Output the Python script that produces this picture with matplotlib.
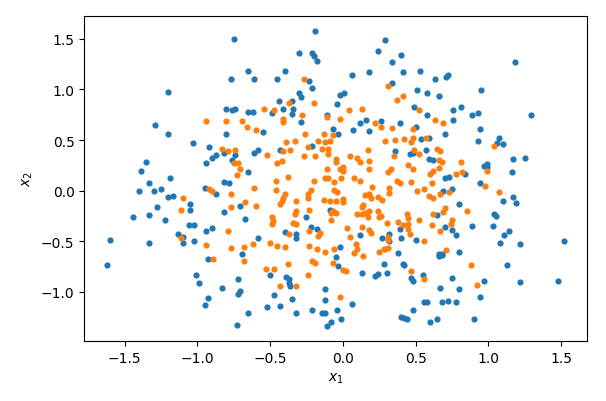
import matplotlib
matplotlib.use("Agg")
import matplotlib.pyplot as plt

# class 0 (blue) points: (x1, x2)
blue_pts = [
    (-0.75, 1.50), (-0.77, 1.10), (-1.20, 0.97), (-0.80, 0.81), (-0.76, 0.80), (-0.74, 0.81),
    (-1.29, 0.65), (-1.20, 0.56), (-0.80, 0.56), (-1.03, 0.47), (-0.92, 0.43), (-0.87, 0.35),
    (-0.82, 0.37), (-0.74, 0.35), (-0.90, 0.32), (-0.76, 0.30), (-0.94, 0.27), (-1.35, 0.28),
    (-1.39, 0.19),
    (-1.19, 0.12), (-1.33, 0.08), (-0.82, 0.09), (-0.78, 0.08), (-1.40, 0.00), (-1.30, 0.00),
    (-1.25, 0.02), (-0.95, 0.03), (-0.87, -0.03), (-1.20, -0.06), (-1.17, -0.05), (-1.05, -0.13),
    (-1.28, -0.16), (-1.05, -0.19), (-0.71, -0.15), (-0.82, -0.21), (-1.33, -0.24), (-1.44, -0.26),
    (-1.22, -0.29), (-0.67, -0.28), (-1.06, -0.34), (-1.02, -0.34), (-0.90, -0.37), (-0.94, -0.40),
    (-1.13, -0.43), (-1.10, -0.46), (-1.10, -0.52), (-1.02, -0.50), (-1.60, -0.49), (-1.33, -0.52),
    (-0.69, -0.63), (-0.93, -0.68), (-1.62, -0.73), (-1.01, -0.83), (-0.99, -0.91), (-0.72, -0.87),
    (-0.83, -0.96), (-0.71, -0.99), (-0.72, -1.02), (-0.93, -1.06), (-0.95, -1.13), (-0.73, -1.33),
    (-0.19, 1.58), (0.29, 1.49), (0.24, 1.38), (-0.30, 1.36), (-0.21, 1.36), (-0.20, 1.33),
    (-0.18, 1.28), (0.40, 1.34), (0.34, 1.27), (-0.65, 1.18), (-0.40, 1.18), (0.41, 1.17),
    (-0.61, 1.10), (-0.45, 1.10), (0.06, 1.14), (0.18, 1.17), (-0.23, 1.08), (-0.21, 1.01),
    (0.34, 1.06), (-0.30, 0.96), (-0.29, 0.92), (-0.02, 0.94), (0.01, 0.96), (-0.35, 0.89),
    (-0.44, 0.89), (-0.04, 0.86), (-0.49, 0.77), (-0.41, 0.81), (-0.34, 0.81), (-0.35, 0.76),
    (-0.65, 0.78), (-0.62, 0.78), (-0.11, 0.75), (-0.29, 0.68), (-0.55, 0.58), (-0.07, 0.61),
    (-0.03, 0.56), (0.07, 0.60), (0.12, 0.67), (0.16, 0.70), (0.26, 0.69), (0.18, 0.59),
    (0.39, 0.67), (-0.21, 0.44), (-0.43, 0.40), (-0.61, 0.37), (-0.58, 0.40), (0.36, 0.39),
    (0.46, 0.36), (0.48, 0.37), (-0.65, 0.18),
    (-0.25, -0.26), (-0.09, -0.19), (-0.40, -0.41), (-0.32, -0.43), (-0.32, -0.47), (-0.22, -0.36),
    (-0.18, -0.38), (0.12, -0.44), (0.27, -0.47), (0.32, -0.43), (0.32, -0.50), (0.39, -0.38),
    (0.40, -0.47), (-0.58, -0.47), (-0.02, -0.56), (0.38, -0.62), (-0.05, -0.66), (-0.03, -0.74),
    (-0.50, -0.83), (0.13, -0.81), (0.22, -0.84), (0.24, -0.82), (0.28, -0.72), (0.30, -0.81),
    (0.41, -0.72), (0.42, -0.73), (0.47, -0.86), (0.48, -0.89), (-0.39, -0.85), (-0.37, -0.87),
    (-0.37, -0.91), (-0.36, -0.94), (-0.12, -0.97), (-0.47, -1.03), (-0.35, -1.07), (-0.12, -1.08),
    (0.06, -1.12), (-0.52, -1.15), (-0.43, -1.14), (-0.65, -1.21), (-0.32, -1.21), (-0.21, -1.18),
    (-0.14, -1.21), (-0.12, -1.21), (-0.04, -1.18), (-0.01, -1.27), (-0.08, -1.30), (-0.11, -1.34),
    (0.40, -1.25), (0.42, -1.26), (0.44, -1.27), (0.48, -1.18),
    (1.18, 1.27), (0.53, 1.18), (0.63, 1.10), (0.71, 1.12), (0.72, 1.14), (0.51, 0.99),
    (0.58, 0.96), (0.66, 0.93), (0.95, 0.99), (0.49, 0.83), (0.58, 0.75), (0.76, 0.80),
    (0.81, 0.83), (0.89, 0.75), (0.93, 0.77), (1.29, 0.75), (0.76, 0.70), (0.50, 0.63),
    (0.94, 0.61), (0.70, 0.56), (0.54, 0.51), (0.59, 0.52), (1.07, 0.52), (0.93, 0.49),
    (1.10, 0.46), (1.06, 0.47), (0.57, 0.40), (0.59, 0.31), (0.62, 0.30), (1.17, 0.31),
    (1.25, 0.32), (0.99, 0.26), (0.97, 0.24), (0.99, 0.23), (1.16, 0.18), (0.84, 0.16),
    (0.70, 0.12), (0.73, 0.13), (0.94, 0.08), (0.69, 0.00), (0.75, 0.02), (1.10, -0.10),
    (1.17, -0.06), (1.19, -0.12), (0.80, -0.13), (0.65, -0.24), (1.04, -0.23), (1.05, -0.25),
    (0.70, -0.36), (0.75, -0.39), (0.78, -0.44), (0.89, -0.35), (1.03, -0.35), (1.14, -0.40),
    (1.11, -0.44), (0.50, -0.49), (1.08, -0.52), (1.22, -0.53), (1.52, -0.50), (0.66, -0.63),
    (0.68, -0.64), (0.66, -0.65), (0.68, -0.63), (0.80, -0.61), (1.13, -0.73), (0.55, -0.83),
    (0.75, -0.86), (0.97, -0.89), (1.22, -0.90), (1.48, -0.89), (0.67, -0.96), (0.80, -0.97),
    (0.94, -1.05), (0.56, -1.10), (0.58, -1.10), (0.68, -1.10), (0.72, -1.09), (0.78, -1.10),
    (0.60, -1.30), (0.65, -1.27), (0.90, -1.27),
]

# class 1 (orange) points: (x1, x2)
orange_pts = [
    (-0.94, 0.69), (-0.80, 0.69), (-0.69, 0.69), (-0.83, 0.41), (-0.79, 0.39), (-0.74, 0.40),
    (-0.75, 0.27), (-0.72, 0.27), (-0.71, 0.21), (-0.73, 0.15),
    (-0.92, 0.02), (-0.90, 0.00), (-0.77, -0.03), (-1.10, -0.07), (-1.11, -0.19), (-0.77, -0.16),
    (-0.67, -0.11), (-0.79, -0.40), (-1.11, -0.47), (-0.94, -0.54), (-0.77, -0.57), (-0.68, -0.56),
    (-0.68, -0.69), (-0.89, -0.68),
    (-0.27, 1.10), (0.31, 1.03), (0.41, 0.93), (0.37, 0.90), (-0.37, 0.87), (-0.20, 0.87),
    (-0.54, 0.81), (-0.47, 0.80), (-0.28, 0.75), (-0.11, 0.73), (0.04, 0.80), (0.13, 0.81),
    (-0.41, 0.71), (-0.41, 0.68), (-0.02, 0.71), (-0.66, 0.63), (-0.60, 0.60), (0.22, 0.67),
    (0.26, 0.63), (0.34, 0.62), (0.48, 0.61), (-0.26, 0.56), (-0.13, 0.56), (-0.07, 0.55),
    (-0.39, 0.48), (-0.33, 0.49), (-0.17, 0.49), (-0.12, 0.48), (-0.09, 0.49), (-0.24, 0.43),
    (-0.14, 0.41), (-0.10, 0.41), (-0.10, 0.36), (-0.36, 0.40), (-0.41, 0.39), (-0.52, 0.35),
    (0.17, 0.40), (0.29, 0.49), (0.36, 0.50), (0.42, 0.51), (0.48, 0.52), (0.47, 0.48),
    (0.35, 0.34), (-0.27, 0.34), (-0.19, 0.34), (-0.05, 0.31), (0.05, 0.34), (0.10, 0.32),
    (0.12, 0.28), (0.18, 0.29), (-0.45, 0.27), (-0.42, 0.29), (-0.05, 0.28), (0.00, 0.23),
    (-0.02, 0.21), (0.00, 0.19), (-0.11, 0.21), (0.18, 0.21), (0.33, 0.21), (0.31, 0.18),
    (0.45, 0.25), (0.48, 0.21),
    (-0.46, 0.10), (-0.38, 0.13), (-0.61, 0.03), (-0.46, 0.01), (-0.20, 0.10), (-0.12, 0.12),
    (-0.10, 0.12), (-0.06, 0.09), (-0.01, 0.12), (0.08, 0.12), (0.12, 0.10), (0.37, 0.10),
    (0.39, 0.08), (0.47, 0.09), (-0.22, 0.01), (-0.24, -0.03), (-0.24, -0.07), (-0.40, -0.03),
    (-0.41, -0.07), (-0.42, -0.10), (-0.43, -0.13), (-0.32, -0.10), (-0.13, -0.09), (-0.09, -0.10),
    (-0.05, -0.10), (-0.06, 0.01), (-0.04, -0.01), (0.00, -0.08), (0.00, -0.11), (0.20, 0.04),
    (0.32, 0.03), (0.32, -0.02), (0.15, -0.04), (0.18, -0.03), (0.19, -0.07), (0.24, -0.06),
    (0.27, -0.09), (0.14, -0.14), (0.13, -0.16), (-0.60, -0.15), (-0.49, -0.26), (-0.48, -0.30),
    (-0.49, -0.33), (-0.32, -0.20), (-0.33, -0.23), (-0.34, -0.32), (-0.32, -0.33), (-0.23, -0.19),
    (-0.08, -0.22), (-0.07, -0.20), (-0.08, -0.29), (-0.05, -0.22), (0.10, -0.23), (0.13, -0.23),
    (0.15, -0.22), (0.18, -0.20), (0.17, -0.26), (0.24, -0.20), (0.25, -0.26), (0.26, -0.25),
    (0.38, -0.31), (0.44, -0.23), (0.45, -0.27), (0.45, -0.33), (0.41, -0.34), (0.30, -0.32),
    (0.03, -0.37), (0.13, -0.36), (0.18, -0.39), (0.19, -0.42), (0.45, -0.38), (0.46, -0.43),
    (-0.37, -0.43), (-0.23, -0.40), (-0.16, -0.42), (-0.17, -0.45), (0.05, -0.46), (0.31, -0.46),
    (0.31, -0.49), (-0.62, -0.53), (-0.50, -0.52), (-0.45, -0.55), (-0.40, -0.56), (-0.23, -0.55),
    (-0.18, -0.58), (-0.12, -0.61), (-0.06, -0.58), (0.09, -0.53), (0.10, -0.58), (0.08, -0.62),
    (0.14, -0.65), (0.25, -0.61), (0.28, -0.58), (0.29, -0.58), (0.31, -0.57), (-0.21, -0.69),
    (-0.19, -0.71), (-0.38, -0.72), (-0.07, -0.71), (0.00, -0.78), (0.02, -0.79), (-0.53, -0.77),
    (-0.47, -0.77), (-0.24, -0.83), (0.47, -0.79), (-0.32, -0.94), (-0.43, -0.94), (-0.02, -1.05),
    (0.52, 0.80), (0.63, 0.70), (0.69, 0.67), (0.57, 0.52), (1.04, 0.44), (0.49, 0.40),
    (0.52, 0.36), (0.65, 0.41), (0.67, 0.39), (0.66, 0.30), (0.68, 0.28), (0.81, 0.28),
    (0.99, 0.19), (0.66, 0.22), (0.62, 0.19), (0.60, 0.16), (0.78, 0.16), (0.82, 0.18),
    (0.61, 0.08), (0.98, 0.05), (0.51, 0.00), (0.56, 0.02), (0.59, -0.05), (0.62, -0.07),
    (0.67, -0.03), (0.73, -0.01), (1.07, -0.01), (0.70, -0.17), (0.69, -0.21), (0.62, -0.23),
    (0.85, -0.20), (0.52, -0.29), (0.75, -0.29), (0.74, -0.33), (0.61, -0.34), (0.67, -0.40),
    (0.56, -0.50), (0.71, -0.59), (0.88, -0.73), (0.56, -0.87), (0.92, -0.93),
]

blue_x1 = [p[0] for p in blue_pts]
blue_x2 = [p[1] for p in blue_pts]
orange_x1 = [p[0] for p in orange_pts]
orange_x2 = [p[1] for p in orange_pts]

fig = plt.figure(figsize=(6.06, 4.02), dpi=100)
ax = fig.add_axes([0.139, 0.149, 0.8295, 0.809])
ax.scatter(blue_x1, blue_x2, s=20, color="#1f77b4", linewidths=0)
ax.scatter(orange_x1, orange_x2, s=20, color="#ff7f0e", linewidths=0)
ax.set_xlabel("$x_1$")
ax.set_ylabel("$x_2$")
fig.savefig("out.png", dpi=100)
